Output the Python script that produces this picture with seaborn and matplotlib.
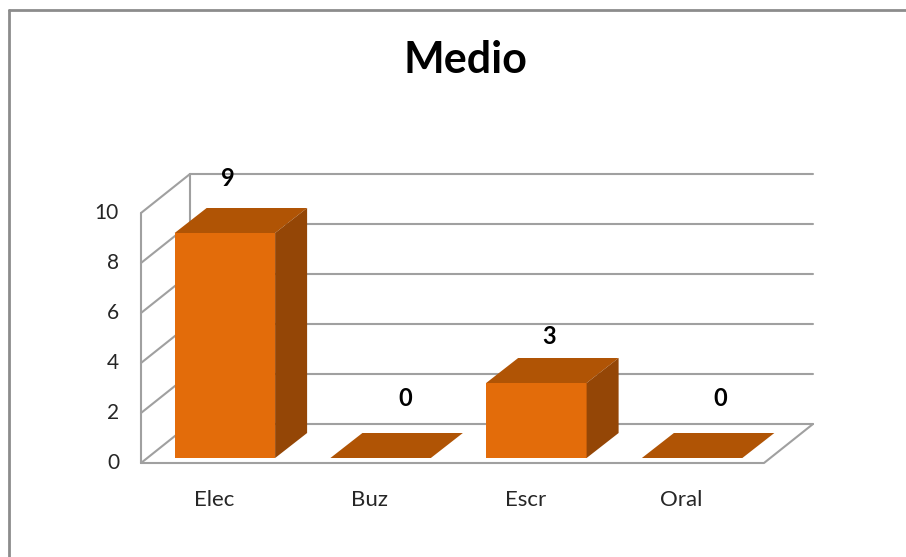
import matplotlib
matplotlib.use("Agg")
import matplotlib.pyplot as plt
from matplotlib.lines import Line2D
from matplotlib.patches import Polygon
import seaborn as sns
import pandas as pd

categories = ["Elec", "Buz", "Escr", "Oral"]
values = [9, 0, 3, 0]
y_ticks = [0, 2, 4, 6, 8, 10]
title = "Medio"

# style
FRONT = "#E36C0A"
TOP = "#B05405"
SIDE = "#944606"
GRID = "#A0A0A0"
FONT = "Lato"
label_nudge_px = [(3, 55), (25, 60), (13, 47), (28, 60)]

sns.set_theme(style="white")
plt.rcParams["font.family"] = [FONT, "DejaVu Sans"]

W, H, DPI = 906, 557, 100
fig = plt.figure(figsize=(W / DPI, H / DPI), dpi=DPI, facecolor="white")
ax = fig.add_axes([147 / W, 99 / H, 623 / W, 250 / H])

df = pd.DataFrame({"cat": categories, "val": values})
sns.barplot(data=df, x="cat", y="val", color=FRONT, saturation=1, width=0.645,
            ax=ax, zorder=3, edgecolor="none")
ax.set_xlim(-0.5, len(categories) - 0.5)
ax.set_ylim(0, 10)
ax.axis("off")

# pixel -> data conversion
fig.canvas.draw()
bb = ax.get_window_extent()
ux = (ax.get_xlim()[1] - ax.get_xlim()[0]) / bb.width
uy = (ax.get_ylim()[1] - ax.get_ylim()[0]) / bb.height

def px(dx, dy):
    return dx * ux, dy * uy

fx, fy = px(-6, -5)     # front of floor
bx, by = px(43, 34)     # back wall
ddx, ddy = px(32, 25)   # bar depth
x0, x1 = ax.get_xlim()
top = max(y_ticks)
lw = 1.5

# back wall gridlines
for v in y_ticks:
    ax.add_line(Line2D([x0 + bx, x1 + bx], [v + by, v + by], color=GRID, lw=lw,
                       clip_on=False, zorder=1))
    # side wall lines
    ax.add_line(Line2D([x0 + fx, x0 + bx], [v + fy, v + by], color=GRID, lw=lw,
                       clip_on=False, zorder=1))
    tx, _ = px(-22, 0)
    ax.text(x0 + fx + tx, v + fy, str(v), ha="right", va="center", fontsize=15,
            color="#262626", clip_on=False)
ax.add_line(Line2D([x0 + bx, x0 + bx], [by, top + by], color=GRID, lw=lw, clip_on=False, zorder=1))
ax.add_line(Line2D([x0 + fx, x0 + fx], [fy, top + fy], color=GRID, lw=lw, clip_on=False, zorder=1))
# floor
ax.add_line(Line2D([x0 + fx, x1 + fx, x1 + bx], [fy, fy, by], color=GRID, lw=lw,
                   clip_on=False, zorder=1))

# 3D faces of bars
for i, p in enumerate(ax.patches[:len(values)]):
    x, w, h = p.get_x(), p.get_width(), p.get_height()
    topf = Polygon([(x, h), (x + w, h), (x + w + ddx, h + ddy), (x + ddx, h + ddy)],
                   closed=True, facecolor=TOP, edgecolor="none", zorder=3, clip_on=False)
    ax.add_patch(topf)
    if h > 0:
        side = Polygon([(x + w, 0), (x + w, h), (x + w + ddx, h + ddy), (x + w + ddx, ddy)],
                       closed=True, facecolor=SIDE, edgecolor="none", zorder=3, clip_on=False)
        ax.add_patch(side)
    nx, ny = px(*label_nudge_px[i])
    ax.text(x + w / 2 + nx, h + ny, f"{values[i]:g}", ha="center", va="center",
            fontsize=17, fontweight="bold", color="black", clip_on=False)

# category labels
lx, ly = px(-5, -42)
for i, c in enumerate(categories):
    ax.text(i + fx + lx, ly, c, ha="center", va="center", fontsize=16, color="#262626",
            clip_on=False)

fig.text(465 / W, 1 - 60 / H, title, ha="center", va="center", fontsize=31,
         fontweight="bold", color="black")

# chart frame
fig.add_artist(Line2D([9 / W, 9 / W], [0, 1 - 10 / H], color="#8C8C8C", lw=2,
                      transform=fig.transFigure))
fig.add_artist(Line2D([9 / W, 1], [1 - 10 / H, 1 - 10 / H], color="#8C8C8C", lw=2,
                      transform=fig.transFigure))

fig.savefig("out.png", dpi=DPI, facecolor="white")
